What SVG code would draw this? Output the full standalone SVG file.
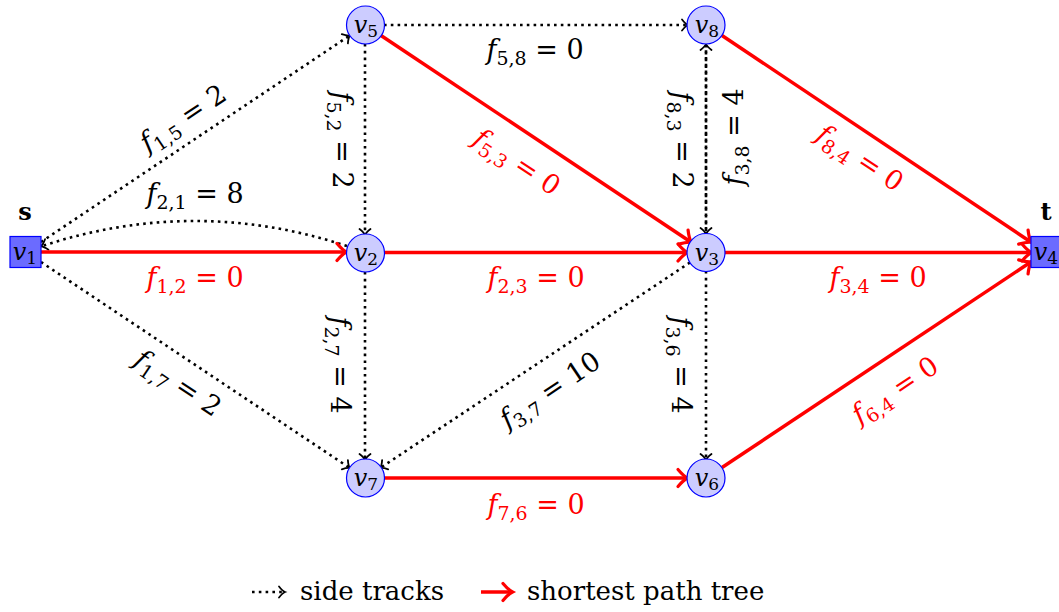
<svg xmlns="http://www.w3.org/2000/svg" width="1059" height="612" viewBox="0 0 1059 612">
<style>
.dot{fill:none;stroke:#000;stroke-width:2.6;stroke-dasharray:2.6 4.2;marker-end:url(#ab)}
.red{fill:none;stroke:#ff0000;stroke-width:3.5;marker-end:url(#ar)}
.nc{fill:#ccccff;stroke:#0000ff;stroke-width:1.2}
.ns{fill:#6b6bff;stroke:#0000ff;stroke-width:1.2}
text{font-family:"DejaVu Serif","Liberation Serif",serif}
.nt{font-size:24px;text-anchor:middle}
.lb{font-size:27px;text-anchor:middle}
.rl{fill:#ff0000}
.it{font-style:italic}
.sb{font-size:19px}
.nsb{font-size:17px}
.lg{font-size:26px}
.bd{font-weight:bold;font-size:24px;text-anchor:middle}
</style>
<defs>
<marker id="ab" markerUnits="userSpaceOnUse" orient="auto" overflow="visible" markerWidth="1" markerHeight="1" refX="0" refY="0">
<path d="M -5 -5.5 Q -1.5 -1 1 0 Q -1.5 1 -5 5.5" fill="none" stroke="#000" stroke-width="1.8" stroke-dasharray="none" stroke-linecap="round"/>
</marker>
<marker id="ar" markerUnits="userSpaceOnUse" orient="auto" overflow="visible" markerWidth="1" markerHeight="1" refX="0" refY="0">
<path d="M -8 -8.5 Q -2.5 -2 1.5 0 Q -2.5 2 -8 8.5" fill="none" stroke="#ff0000" stroke-width="3.2" stroke-dasharray="none" stroke-linecap="round"/>
</marker>
</defs>
<rect width="1059" height="612" fill="#fff"/>
<g id="connectors">
<line class="dot" x1="41" y1="242" x2="349" y2="36"/>
<line class="dot" x1="41" y1="262" x2="349" y2="467.5"/>
<path class="dot" d="M 347 246 Q 195 196 42 246"/>
<line class="red" x1="41" y1="252" x2="345" y2="252"/>
<line class="dot" x1="384" y1="25" x2="687" y2="25"/>
<line class="dot" x1="365" y1="44" x2="365" y2="234"/>
<line class="red" x1="381" y1="35.5" x2="690" y2="241.5"/>
<line class="red" x1="384" y1="252.5" x2="686" y2="252.5"/>
<line class="dot" x1="365" y1="272" x2="365" y2="459"/>
<line class="dot" x1="706" y1="45" x2="706" y2="233"/>
<line class="dot" x1="706" y1="233" x2="706" y2="45" style="stroke-dashoffset:3.4"/>
<line class="red" x1="722" y1="35.5" x2="1030" y2="241.5"/>
<line class="red" x1="725" y1="252.5" x2="1030" y2="252.5"/>
<line class="red" x1="722" y1="467.5" x2="1030" y2="262.5"/>
<line class="dot" x1="690" y1="262.5" x2="381" y2="467.5"/>
<line class="dot" x1="706" y1="271" x2="706" y2="459"/>
<line class="red" x1="384" y1="478" x2="686" y2="478"/>
</g>
<g id="labels">
<text class="lb" transform="translate(183,118) rotate(-33.7)" y="9"><tspan class="it">f</tspan><tspan class="sb" dy="6">1,5</tspan><tspan dy="-6"> = 2</tspan></text>
<text class="lb" x="195" y="203"><tspan class="it">f</tspan><tspan class="sb" dy="6">2,1</tspan><tspan dy="-6"> = 8</tspan></text>
<text class="lb rl" x="195" y="287"><tspan class="it">f</tspan><tspan class="sb" dy="6">1,2</tspan><tspan dy="-6"> = 0</tspan></text>
<text class="lb" transform="translate(178,383) rotate(33.7)" y="9"><tspan class="it">f</tspan><tspan class="sb" dy="6">1,7</tspan><tspan dy="-6"> = 2</tspan></text>
<text class="lb" x="535" y="59"><tspan class="it">f</tspan><tspan class="sb" dy="6">5,8</tspan><tspan dy="-6"> = 0</tspan></text>
<text class="lb" transform="translate(342,140) rotate(90)" y="9"><tspan class="it">f</tspan><tspan class="sb" dy="6">5,2</tspan><tspan dy="-6"> = 2</tspan></text>
<text class="lb rl" transform="translate(517,162) rotate(33.7)" y="9"><tspan class="it">f</tspan><tspan class="sb" dy="6">5,3</tspan><tspan dy="-6"> = 0</tspan></text>
<text class="lb rl" x="536" y="287"><tspan class="it">f</tspan><tspan class="sb" dy="6">2,3</tspan><tspan dy="-6"> = 0</tspan></text>
<text class="lb" transform="translate(340,365) rotate(90)" y="9"><tspan class="it">f</tspan><tspan class="sb" dy="6">2,7</tspan><tspan dy="-6"> = 4</tspan></text>
<text class="lb" transform="translate(682,140) rotate(90)" y="9"><tspan class="it">f</tspan><tspan class="sb" dy="6">8,3</tspan><tspan dy="-6"> = 2</tspan></text>
<text class="lb" transform="translate(734,137) rotate(-90)" y="9"><tspan class="it">f</tspan><tspan class="sb" dy="6">3,8</tspan><tspan dy="-6"> = 4</tspan></text>
<text class="lb rl" transform="translate(860,158) rotate(33.7)" y="9"><tspan class="it">f</tspan><tspan class="sb" dy="6">8,4</tspan><tspan dy="-6"> = 0</tspan></text>
<text class="lb rl" x="878" y="287"><tspan class="it">f</tspan><tspan class="sb" dy="6">3,4</tspan><tspan dy="-6"> = 0</tspan></text>
<text class="lb" transform="translate(550,390) rotate(-33.7)" y="9"><tspan class="it">f</tspan><tspan class="sb" dy="6">3,7</tspan><tspan dy="-6"> = 10</tspan></text>
<text class="lb" transform="translate(681,365) rotate(90)" y="9"><tspan class="it">f</tspan><tspan class="sb" dy="6">3,6</tspan><tspan dy="-6"> = 4</tspan></text>
<text class="lb rl" x="536" y="514"><tspan class="it">f</tspan><tspan class="sb" dy="6">7,6</tspan><tspan dy="-6"> = 0</tspan></text>
<text class="lb rl" transform="translate(895,390) rotate(-33.7)" y="9"><tspan class="it">f</tspan><tspan class="sb" dy="6">6,4</tspan><tspan dy="-6"> = 0</tspan></text>
</g>
<g id="v1"><rect class="ns" x="10" y="236.5" width="31" height="31"/><text class="nt" x="25" y="260"><tspan class="it">v</tspan><tspan class="nsb" dy="4">1</tspan></text><text class="bd" x="25" y="220">s</text></g>
<g id="v5"><circle class="nc" cx="365.5" cy="25" r="19"/><text class="nt" x="366" y="33"><tspan class="it">v</tspan><tspan class="nsb" dy="4">5</tspan></text></g>
<g id="v2"><circle class="nc" cx="365.5" cy="253" r="19"/><text class="nt" x="366" y="261"><tspan class="it">v</tspan><tspan class="nsb" dy="4">2</tspan></text></g>
<g id="v8"><circle class="nc" cx="706" cy="25" r="19"/><text class="nt" x="707" y="33"><tspan class="it">v</tspan><tspan class="nsb" dy="4">8</tspan></text></g>
<g id="v3"><circle class="nc" cx="706" cy="252.5" r="19"/><text class="nt" x="707" y="261"><tspan class="it">v</tspan><tspan class="nsb" dy="4">3</tspan></text></g>
<g id="v4"><rect class="ns" x="1031" y="236.5" width="31" height="31"/><text class="nt" x="1046" y="260"><tspan class="it">v</tspan><tspan class="nsb" dy="4">4</tspan></text><text class="bd" x="1046" y="220">t</text></g>
<g id="v7"><circle class="nc" cx="365.5" cy="478" r="19"/><text class="nt" x="366" y="486"><tspan class="it">v</tspan><tspan class="nsb" dy="4">7</tspan></text></g>
<g id="v6"><circle class="nc" cx="706" cy="478" r="19"/><text class="nt" x="707" y="486"><tspan class="it">v</tspan><tspan class="nsb" dy="4">6</tspan></text></g>
<g id="legend">
<line class="dot" x1="252" y1="592" x2="284" y2="592"/>
<text class="lg" x="300" y="600">side tracks</text>
<line class="red" x1="481" y1="592" x2="511" y2="592"/>
<text class="lg" x="527" y="600">shortest path tree</text>
</g>
</svg>
